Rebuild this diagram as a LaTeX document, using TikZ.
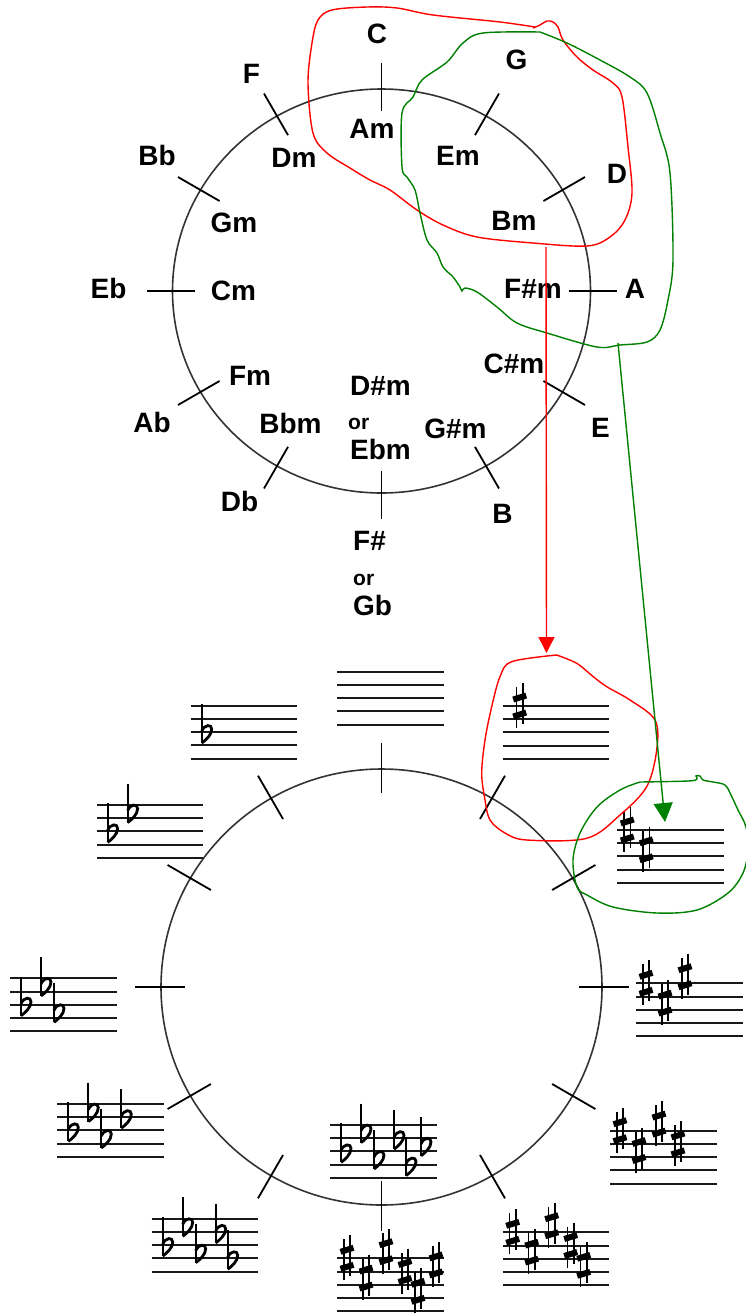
\documentclass[tikz,border=0pt]{standalone}
\usepackage{fontspec}
\setmainfont{Liberation Sans}
\usetikzlibrary{arrows.meta}
\tikzset{
  sharpsign/.pic={
    \draw[line width=1.8pt] (-3.2,-19) -- (-3.2,22);
    \draw[line width=1.8pt] (3.2,-23) -- (3.2,18);
    \draw[line width=6pt] (-6.5,-6.5) -- (6.5,-10.5);
    \draw[line width=6pt] (-6.5,10.5) -- (6.5,6.5);
  },
  flatsign/.pic={
    \draw[line width=2pt] (0,-28) -- (0,11);
    \draw[line width=2.8pt] (0,-1) .. controls (3,-8) and (10,-8) .. (10,-3) .. controls (10,3) and (4,8) .. (0,11);
  }
}
\newcommand{\kstaff}[2]{\foreach \k in {0,...,4}{\draw[staffline] (#1,{#2+13.2*\k}) -- ++(106.7,0);}}
\newcommand{\sharpset}[3]{\foreach \sx/\p in {#3}{\pic at ({#1+\sx},{#2+6.6*\p}) {sharpsign};}}
\newcommand{\flatset}[3]{\foreach \sx/\p in {#3}{\pic at ({#1+\sx},{#2+6.6*\p}) {flatsign};}}
\begin{document}
\begin{tikzpicture}[x=1pt,y=-1pt,
  lab/.style={font=\bfseries\fontsize{28}{30}\selectfont, inner sep=0pt, anchor=base},
  lablw/.style={font=\bfseries\fontsize{28}{30}\selectfont, inner sep=0pt, anchor=base west},
  orlab/.style={font=\bfseries\fontsize{21}{23}\selectfont, inner sep=0pt, anchor=base west},
  ring/.style={draw=black!80, line width=1.6pt},
  tickmark/.style={draw=black, line width=1.8pt},
  staffline/.style={draw=black!90, line width=2pt},
  redink/.style={draw=red, line width=1.4pt},
  greenink/.style={draw={rgb,255:red,0;green,128;blue,0}, line width=1.4pt},
]
\useasboundingbox (0,0) rectangle (746,1315);

% ---------- top circle ----------
\draw[ring] (381.5,291) ellipse [x radius=209pt, y radius=202pt];
\foreach \a in {0,30,...,330}{
  \draw[tickmark] ({381.5+187*cos(\a)},{291-180*sin(\a)}) -- ({381.5+235*cos(\a)},{291-228*sin(\a)});
}
% outer labels
\node[lab] (kC)  at (377,43)   {C};
\node[lab] (kG)  at (516.5,69) {G};
\node[lab] (kD)  at (617,183)  {D};
\node[lab] (kA)  at (635,298)  {A};
\node[lab] (kE)  at (600.5,437){E};
\node[lab] (kB)  at (502.5,523){B};
\node[lablw] (kFs) at (353,550) {F\#};
\node[orlab] (kor2) at (353,585) {or};
\node[lablw] (kGb) at (353,615) {Gb};
\node[lab] (kDb) at (239.5,511){Db};
\node[lab] (kAb) at (152,432)  {Ab};
\node[lab] (kEb) at (108.5,298){Eb};
\node[lab] (kBb) at (157,165)  {Bb};
\node[lab] (kF)  at (251.5,83) {F};
% inner labels
\node[lab] (mA)  at (372,138)  {Am};
\node[lab] (mE)  at (458,165)  {Em};
\node[lab] (mB)  at (514,230)  {Bm};
\node[lab] (mFs) at (533,298)  {F\#m};
\node[lab] (mCs) at (514,373)  {C\#m};
\node[lab] (mGs) at (455.5,438){G\#m};
\node[lablw] (mDs) at (350,395) {D\#m};
\node[orlab] (mor) at (348,429) {or};
\node[lablw] (mEb) at (350,459) {Ebm};
\node[lab] (mBb) at (290.5,433){Bbm};
\node[lab] (mF)  at (250,385)  {Fm};
\node[lab] (mC)  at (233.5,300){Cm};
\node[lab] (mG)  at (234,232)  {Gm};
\node[lab] (mD)  at (294,167)  {Dm};

% ---------- bottom circle ----------
\draw[ring] (381.5,987) ellipse [x radius=220.5pt, y radius=218pt];
\foreach \a in {0,30,...,330}{
  \draw[tickmark] ({381.5+197*cos(\a)},{987-194*sin(\a)}) -- ({381.5+247*cos(\a)},{987-244*sin(\a)});
}
% staves
\kstaff{337}{671.7}
\kstaff{502.7}{706}
\sharpset{502.7}{706}{17/0}
\kstaff{617.3}{830}
\sharpset{617.3}{830}{10/0,29/3}
\kstaff{636}{983.3}
\sharpset{636}{983.3}{10/0,29/3,49/-1}
\kstaff{610}{1130.7}
\sharpset{610}{1130.7}{10/0,29/3,49/-1,68/2}
\kstaff{502.7}{1232.3}
\sharpset{502.7}{1232.3}{10/0,29/3,49/-1,68/2,81/5}
\kstaff{337}{1258.3}
\sharpset{337}{1258.3}{10/0,29/3,49/-1,68/2,81/5,99/1}
\kstaff{330}{1125}
\flatset{330}{1125}{11/4,31/1,44/5,64/2,76/6,91/3}
\kstaff{151.7}{1218.7}
\flatset{151.7}{1218.7}{11/4,31/1,44/5,64/2,76/6}
\kstaff{57.3}{1104}
\flatset{57.3}{1104}{11/4,31/1,44/5,64/2}
\kstaff{10}{978.3}
\flatset{10}{978.3}{11/4,31/1,44/5}
\kstaff{96.6}{805}
\flatset{96.6}{805}{11/4,31/1}
\kstaff{190.7}{705.7}
\flatset{190.7}{705.7}{11/4}

% ---------- hand-drawn loops ----------
\draw[redink] plot[smooth, tension=0.55] coordinates {(535,27) (500,22) (433,15) (397,8) (367,7) (332,10) (318,20) (312,43) (308,83) (313,133) (327,153) (350,168) (370,180) (390,190) (417,210) (443,225) (477,237) (533,243) (587,246) (610,237) (625,220) (632,193) (628,147) (622,97) (613,83) (593,70) (577,57) (563,40) (558,27) (553,22) (547,21) (540,25) (533,28)};
\draw[greenink] plot[smooth, tension=0.55] coordinates {(540,32) (483,33) (463,43) (447,62) (422,80) (413,97) (402,113) (402,167) (407,177) (415,190) (420,213) (427,240) (437,253) (443,267) (453,277) (460,287) (462,291) (465,288) (477,292) (497,307) (517,323) (547,333) (597,347) (620,345) (647,342) (660,330) (668,300) (673,260) (670,173) (660,133) (647,93) (630,77) (600,60) (567,43) (540,32)};
\draw[redink] plot[smooth, tension=0.55] coordinates {(556.7,655) (511.7,661.7) (500,676.7) (491.7,706.7) (485,740) (481.7,773.3) (485,800) (490,820) (505,833) (526.7,840) (586.7,838.3) (620,815) (646.7,786.7) (656.7,750) (655,720) (630,700) (606.7,686.7) (593.3,676.7) (576.7,663.3) (556.7,655)};
\draw[greenink] plot[smooth, tension=0.55] coordinates {(640,782) (688,781) (697,779) (696,776) (700,776) (703,780) (713,782) (725,785) (731,795) (738,810) (746,827) (748,850) (743,873) (728,893) (697,910) (657,913) (613,907) (587,895) (577,887) (573,860) (580,833) (597,807) (620,790) (640,782)};

% ---------- arrows ----------
\coordinate (rs) at (546,247);
\coordinate (rt) at (546.5,653);
\coordinate (gs) at (618,343);
\coordinate (gt) at (665,822);
\draw[redink, -{Triangle[length=16pt,width=16pt]}] (rs) -- (rt);
\draw[greenink, -{Triangle[length=19pt,width=19pt]}] (gs) -- (gt);
\end{tikzpicture}
\end{document}
